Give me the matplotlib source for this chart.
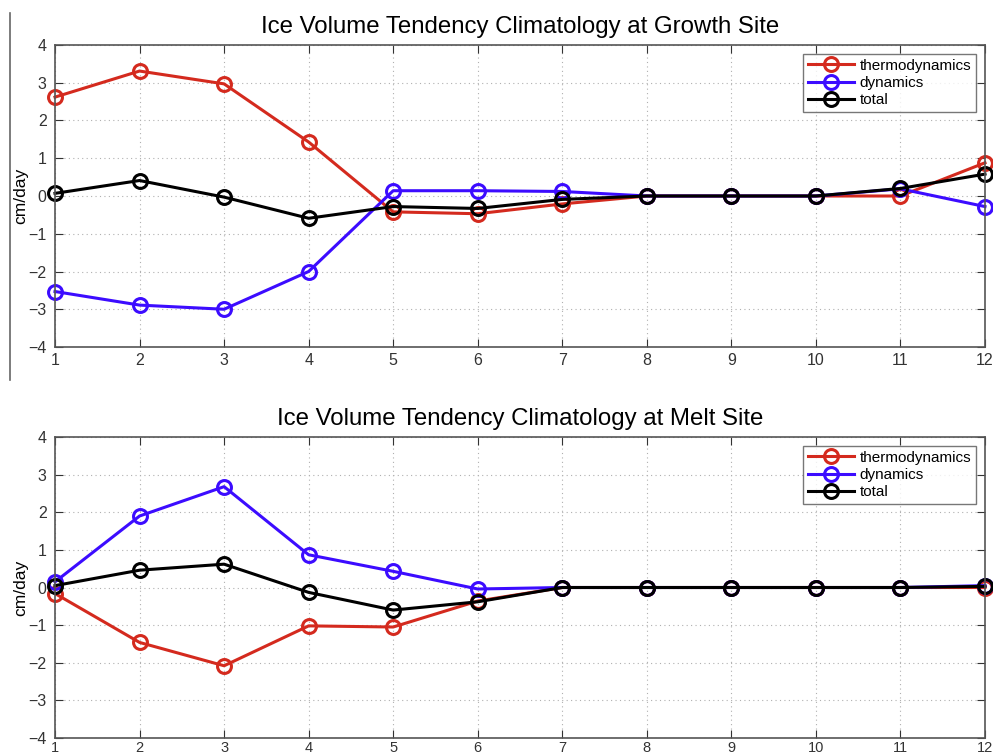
import matplotlib
matplotlib.use("Agg")
import matplotlib.pyplot as plt
from matplotlib.lines import Line2D

months = list(range(1, 13))

# growth site (cm/day)
growth_thermo = [2.62, 3.31, 2.97, 1.43, -0.42, -0.47, -0.21, 0.0, 0.0, 0.0, 0.0, 0.88]
growth_dyn = [-2.53, -2.89, -3.0, -2.0, 0.14, 0.14, 0.12, 0.0, 0.0, 0.0, 0.19, -0.28]
growth_total = [0.07, 0.41, -0.03, -0.59, -0.28, -0.33, -0.09, 0.0, 0.0, 0.0, 0.2, 0.58]

# melt site (cm/day)
melt_thermo = [-0.16, -1.46, -2.08, -1.02, -1.05, -0.36, 0.0, 0.0, 0.0, 0.0, 0.0, 0.0]
melt_dyn = [0.15, 1.9, 2.68, 0.87, 0.43, -0.04, 0.0, 0.0, 0.0, 0.0, 0.0, 0.05]
melt_total = [0.05, 0.46, 0.62, -0.13, -0.6, -0.38, 0.0, 0.0, 0.0, 0.0, 0.0, 0.03]

series_labels = ["thermodynamics", "dynamics", "total"]
colors = ["#d42a1e", "#3c0cff", "#000000"]

plt.rcParams["font.family"] = ["Liberation Sans", "DejaVu Sans"]

fig = plt.figure(figsize=(9.93, 7.56), dpi=100)
W, H = 993, 756


def make_axes(top, bottom):
    return fig.add_axes([55 / W, 1 - bottom / H, 930 / W, (bottom - top) / H])


def style_panel(ax, title):
    ax.set_xlim(1, 12)
    ax.set_ylim(-4, 4)
    ax.set_xticks(months)
    ax.set_yticks(range(-4, 5))
    ax.set_yticklabels([str(v).replace("-", "\u2212") for v in range(-4, 5)])
    ax.grid(True, linestyle=(0, (1, 3)), color="#b0b0b0", linewidth=0.8)
    ax.tick_params(direction="in", top=True, right=True, length=6,
                   labelsize=11.5, colors="#333333")
    ax.tick_params(axis="y", pad=6)
    ax.tick_params(axis="x", pad=4)
    for s in ax.spines.values():
        s.set_color("#555555")
        s.set_linewidth(1.2)
    ax.set_ylabel("cm/day", fontsize=12.5, labelpad=0)
    ax.set_title(title, fontsize=17.3, pad=9)
    ax.legend(loc="upper right", fontsize=11, frameon=True, fancybox=False,
              edgecolor="#555555", borderpad=0.3, labelspacing=0.22,
              handlelength=3.0, handletextpad=0.4, borderaxespad=0.6)
    ax.get_legend().get_frame().set_linewidth(1.0)


ax1 = make_axes(45, 347)
for vals, lab, c in zip([growth_thermo, growth_dyn, growth_total], series_labels, colors):
    ax1.plot(months, vals, color=c, linewidth=2.2, marker="o", markersize=10,
             markerfacecolor="none", markeredgewidth=2.2, label=lab, clip_on=False)
style_panel(ax1, "Ice Volume Tendency Climatology at Growth Site")

ax2 = make_axes(437, 738)
for vals, lab, c in zip([melt_thermo, melt_dyn, melt_total], series_labels, colors):
    ax2.plot(months, vals, color=c, linewidth=2.2, marker="o", markersize=10,
             markerfacecolor="none", markeredgewidth=2.2, label=lab, clip_on=False)
style_panel(ax2, "Ice Volume Tendency Climatology at Melt Site")
ax2.tick_params(axis="x", pad=2, labelsize=10.5)

# stray vertical rule at the left edge of the top panel
fig.add_artist(Line2D([10 / W, 10 / W], [1 - 13 / H, 1 - 380 / H],
                      color="#666666", linewidth=1.2))

fig.savefig("out.png", dpi=100)
